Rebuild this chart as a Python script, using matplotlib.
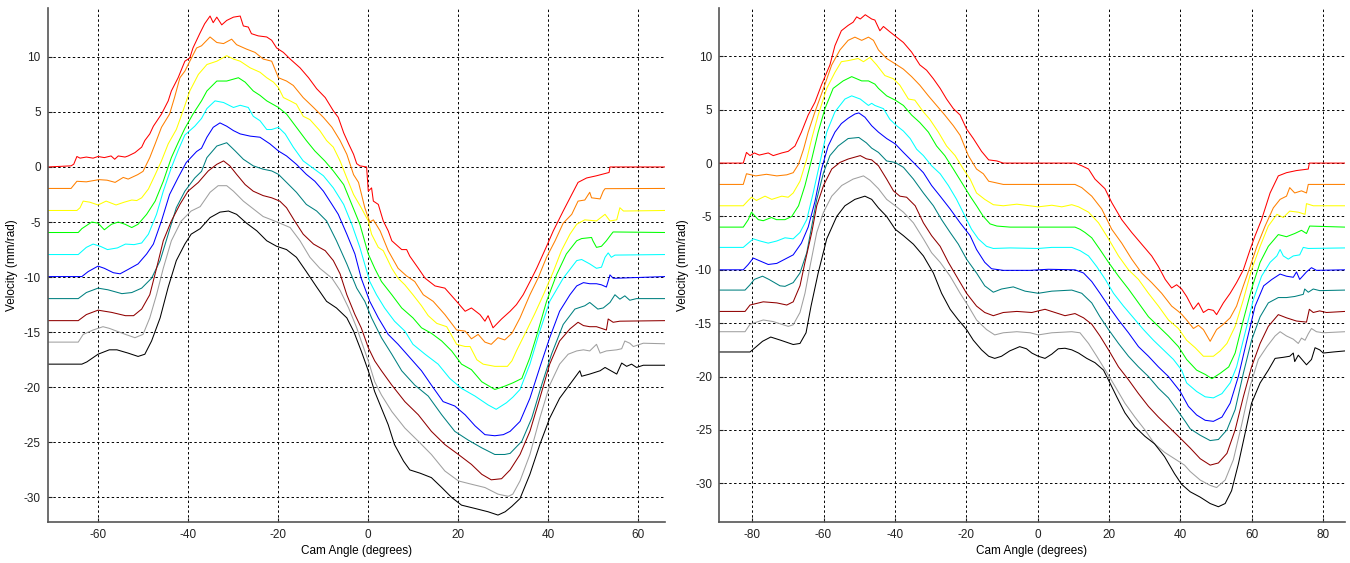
import matplotlib
matplotlib.use('Agg')
import matplotlib.pyplot as plt

plt.rcParams['font.family'] = ['Liberation Sans', 'DejaVu Sans']
plt.rcParams['axes.unicode_minus'] = False

# (cam angle, velocity) pairs, offset curves from top to bottom

left_red = [(-71.2,0.0),(-66.0,0.1),(-65.4,0.25),(-64.7,0.95),(-64.0,0.8),(-62.6,0.9),(-61.1,0.8),(-60.0,0.95),
    (-58.6,0.85),(-57.1,1.0),(-56.3,0.7),(-55.5,1.0),(-54.0,0.9),(-53.3,1.0),(-51.8,1.3),(-50.3,1.8),(-49.6,2.4),
    (-48.5,3.0),(-47.7,3.7),(-45.9,4.8),(-44.4,6.0),(-43.7,6.9),(-42.2,8.1),(-40.7,9.6),(-39.6,9.9),(-38.9,10.8),
    (-37.4,12.1),(-36.3,13.0),(-35.1,13.7),(-34.4,13.1),(-33.6,13.6),(-32.5,12.9),(-31.4,13.3),(-29.9,13.6),
    (-28.4,13.7),(-27.7,12.8),(-26.6,12.7),(-25.9,12.1),(-24.4,11.9),(-22.5,11.8),(-21.4,11.5),(-20.3,10.8),
    (-18.8,10.4),(-17.3,9.8),(-15.1,9.0),(-13.2,8.1),(-11.4,7.1),(-9.5,6.3),(-7.7,5.1),(-6.6,4.5),(-5.4,3.1),
    (-4.3,2.1),(-3.2,1.15),(-2.5,0.3),(-1.8,0.1),(-0.3,0.0),(0.07,-2.2),(0.8,-1.9),(1.2,-3.1),(2.3,-3.4),
    (3.4,-4.9),(4.5,-5.8),(5.3,-6.7),(7.5,-7.5),(8.6,-7.5),(9.3,-8.1),(11.2,-9.2),(12.7,-10.1),(14.9,-10.8),
    (17.1,-11.0),(19.7,-12.2),(21.6,-13.1),(23.0,-12.8),(24.9,-13.4),(26.0,-14.0),(26.7,-13.5),(27.8,-14.6),
    (29.7,-13.8),(31.6,-13.1),(33.0,-12.5),(34.5,-11.6),(36.4,-10.1),(37.5,-9.2),(39.6,-7.3),(41.2,-5.8),
    (43.4,-4.0),(45.3,-2.5),(46.7,-1.4),(48.6,-1.0),(50.8,-0.8),(53.6,-0.5),(53.8,0.0),(66.0,0.0)]

left_orange = [(-71.2,-1.95),(-66.0,-1.95),(-64.7,-1.3),(-62.6,-1.35),(-59.8,-1.15),(-58.0,-1.2),(-56.2,-1.4),
    (-54.4,-0.95),(-53.3,-1.1),(-51.2,-0.7),(-50.0,-0.4),(-48.5,0.85),(-47.3,2.1),(-45.9,3.6),(-44.1,4.8),
    (-43.0,6.3),(-41.8,8.1),(-40.7,8.7),(-39.6,9.6),(-38.1,10.8),(-37.0,11.0),(-35.1,11.8),(-33.6,11.3),
    (-32.1,11.2),(-30.3,11.6),(-29.2,11.1),(-27.0,10.7),(-25.1,10.4),(-23.3,9.8),(-21.4,9.6),(-19.9,8.1),
    (-18.1,7.8),(-16.6,7.4),(-14.4,6.3),(-12.1,5.4),(-9.9,4.5),(-8.0,3.6),(-6.2,2.4),(-4.7,1.15),(-3.2,-0.7),
    (-2.1,-1.4),(-0.7,-3.7),(0.4,-5.0),(1.2,-4.8),(2.7,-5.8),(4.5,-7.6),(6.7,-9.2),(8.6,-9.9),(10.4,-10.4),
    (12.3,-11.6),(14.5,-12.2),(17.1,-13.4),(19.7,-14.8),(21.6,-14.9),(23.0,-15.6),(24.5,-15.2),(26.0,-15.9),
    (27.4,-16.1),(28.9,-15.5),(30.4,-15.7),(32.0,-15.1),(33.8,-13.7),(36.0,-11.6),(37.8,-10.1),(39.7,-8.2),
    (41.6,-6.7),(43.4,-5.1),(45.3,-4.3),(46.7,-3.1),(48.2,-3.0),(49.3,-2.3),(49.7,-2.8),(51.6,-2.9),
    (52.3,-2.2),(52.7,-1.97),(66.0,-1.95)]

left_yellow = [(-71.2,-3.95),(-64.7,-3.95),(-64.0,-3.7),(-63.3,-3.1),(-61.8,-3.2),(-60.0,-3.45),(-58.2,-3.1),
    (-56.0,-3.45),(-54.2,-3.2),(-52.5,-3.0),(-51.4,-3.05),(-50.3,-2.8),(-48.8,-2.0),(-47.3,-0.7),(-45.9,0.55),
    (-44.4,2.1),(-42.6,3.4),(-41.1,5.1),(-39.6,6.9),(-37.7,8.4),(-35.8,9.3),(-33.6,9.6),(-31.4,10.1),(-29.9,9.8),
    (-28.4,9.6),(-26.2,9.0),(-24.0,8.6),(-22.5,8.1),(-21.0,7.7),(-19.9,7.2),(-18.8,6.3),(-17.3,6.0),(-15.9,5.7),
    (-14.4,4.6),(-12.9,4.3),(-10.7,3.3),(-9.2,2.4),(-7.7,1.8),(-6.2,0.55),(-4.7,-1.0),(-3.2,-2.5),(-1.5,-3.7),
    (0.07,-4.9),(0.8,-6.1),(2.3,-7.3),(3.4,-7.6),(5.3,-9.2),(6.7,-10.1),(8.2,-10.7),(10.0,-11.6),(11.9,-12.6),
    (13.4,-13.5),(15.3,-14.2),(17.5,-14.5),(19.7,-16.1),(21.6,-16.3),(22.7,-16.3),(24.2,-17.5),(25.6,-17.9),
    (28.2,-18.1),(31.0,-18.1),(32.0,-17.6),(33.0,-16.7),(35.2,-14.9),(37.1,-13.3),(39.0,-11.6),(41.2,-9.5),
    (43.0,-7.6),(44.9,-6.1),(46.4,-5.2),(48.2,-4.8),(50.8,-4.9),(52.7,-4.3),(53.8,-4.9),(55.3,-4.8),(56.0,-3.7),
    (56.8,-4.0),(66.0,-3.95)]

left_green = [(-71.2,-5.95),(-64.4,-5.95),(-63.6,-5.6),(-61.4,-5.0),(-60.0,-5.1),(-58.6,-5.7),(-57.0,-5.2),
    (-55.5,-5.0),(-54.0,-5.2),(-52.5,-5.5),(-51.1,-5.2),(-49.2,-4.3),(-47.3,-3.1),(-45.5,-1.3),(-43.7,0.85),
    (-42.2,2.2),(-40.7,3.5),(-38.9,4.8),(-37.0,6.0),(-35.8,6.9),(-33.6,7.8),(-31.4,7.8),(-28.8,8.1),(-27.3,7.7),
    (-25.5,6.9),(-24.0,6.5),(-22.5,6.0),(-19.9,5.4),(-18.1,4.8),(-15.9,3.6),(-13.7,2.4),(-11.8,1.45),(-9.6,0.55),
    (-7.7,-0.36),(-5.4,-1.6),(-3.6,-3.4),(-1.8,-5.2),(0.07,-7.9),(1.5,-9.2),(3.0,-10.4),(5.3,-11.6),(7.5,-12.8),
    (10.0,-13.7),(11.9,-14.6),(14.1,-15.1),(16.4,-15.8),(18.6,-16.7),(20.8,-17.9),(23.0,-18.4),(25.3,-19.5),
    (28.2,-20.2),(30.4,-19.9),(32.2,-19.6),(34.2,-19.2),(36.0,-17.3),(37.8,-14.9),(39.7,-12.2),(41.9,-9.8),
    (44.1,-7.9),(46.4,-6.7),(47.5,-6.5),(49.7,-6.4),(50.0,-6.7),(50.8,-7.3),(51.9,-7.2),(53.0,-6.7),(54.1,-6.1),
    (54.5,-5.9),(66.0,-5.95)]

left_cyan = [(-71.2,-7.95),(-64.4,-7.95),(-62.6,-7.3),(-61.1,-7.0),(-59.5,-7.2),(-57.9,-7.5),(-55.7,-7.35),
    (-53.9,-7.0),(-52.0,-7.05),(-50.3,-6.9),(-48.8,-6.1),(-47.0,-4.3),(-45.5,-2.2),(-43.7,-0.06),(-42.2,1.5),
    (-40.7,2.9),(-38.5,3.7),(-37.0,4.4),(-35.8,5.3),(-34.0,6.0),(-32.1,5.85),(-29.9,5.4),(-28.4,5.6),(-26.6,5.4),
    (-25.5,4.6),(-24.0,4.2),(-22.5,3.4),(-21.4,3.4),(-19.9,3.6),(-18.4,3.0),(-16.6,1.8),(-14.4,0.55),(-12.9,0.1),
    (-9.9,-0.8),(-7.7,-1.9),(-5.4,-3.4),(-3.6,-5.2),(-1.8,-7.3),(0.4,-10.4),(1.9,-11.6),(3.7,-12.8),(5.9,-14.0),
    (8.2,-14.9),(10.0,-16.1),(12.7,-17.0),(15.6,-17.9),(18.2,-19.2),(20.8,-20.1),(23.8,-20.8),(26.7,-21.6),
    (28.5,-22.0),(30.8,-21.4),(32.2,-20.9),(33.8,-20.2),(36.0,-17.9),(38.2,-14.9),(40.4,-12.2),(43.4,-10.1),
    (46.4,-8.5),(47.5,-8.4),(49.3,-8.8),(50.8,-9.2),(51.9,-9.1),(52.7,-8.2),(53.4,-7.8),(54.1,-8.2),(54.9,-8.0),
    (66.0,-7.95)]

left_blue = [(-71.2,-9.95),(-63.6,-9.95),(-62.2,-9.5),(-60.0,-9.0),(-58.6,-9.2),(-56.6,-9.6),(-55.1,-9.7),
    (-53.3,-9.3),(-51.1,-8.8),(-49.2,-7.9),(-47.7,-7.0),(-45.9,-4.9),(-44.1,-2.5),(-42.2,-0.97),(-40.4,0.4),
    (-38.1,1.4),(-37.0,1.7),(-35.8,2.7),(-34.4,3.6),(-32.9,4.0),(-31.4,3.7),(-29.9,3.3),(-28.4,3.0),(-26.2,2.8),
    (-24.0,2.7),(-21.8,2.1),(-19.9,1.45),(-18.1,1.0),(-15.9,0.24),(-13.7,-0.67),(-11.8,-1.3),(-9.9,-2.2),
    (-8.0,-3.4),(-6.6,-4.3),(-4.7,-6.1),(-2.9,-7.9),(-1.5,-10.1),(0.4,-12.2),(2.3,-13.7),(4.5,-15.2),(6.7,-16.1),
    (9.3,-17.3),(11.9,-18.5),(14.1,-19.8),(16.7,-21.3),(19.3,-21.7),(21.6,-22.5),(23.8,-23.5),(26.0,-24.3),
    (28.2,-24.4),(30.1,-24.3),(31.6,-24.0),(33.8,-23.1),(36.0,-21.0),(38.2,-18.2),(40.4,-15.5),(42.6,-13.1),
    (44.9,-11.6),(46.4,-10.8),(47.9,-10.5),(49.3,-10.6),(50.8,-10.6),(51.9,-10.7),(53.0,-10.9),(53.8,-9.8),
    (54.5,-10.1),(55.3,-10.1),(66.0,-9.95)]

left_teal = [(-71.2,-11.95),(-64.4,-11.95),(-62.6,-11.4),(-60.0,-11.0),(-57.8,-11.15),(-54.7,-11.5),(-52.5,-11.4),
    (-50.3,-11.0),(-48.1,-10.1),(-46.2,-8.5),(-44.4,-6.1),(-42.6,-3.7),(-40.7,-2.2),(-38.5,-1.0),(-37.0,-0.4),
    (-35.8,0.85),(-33.6,1.9),(-31.4,2.2),(-29.5,1.45),(-27.7,0.7),(-25.5,0.1),(-23.3,-0.2),(-21.4,-0.36),
    (-19.9,-0.67),(-18.1,-1.4),(-15.9,-2.3),(-13.7,-3.4),(-11.4,-4.0),(-9.2,-4.9),(-7.0,-6.7),(-4.7,-8.8),
    (-2.5,-11.0),(-0.7,-12.2),(0.8,-13.7),(3.0,-15.5),(5.3,-17.0),(7.5,-18.5),(10.4,-19.8),(13.4,-20.8),
    (16.4,-22.5),(19.3,-24.0),(22.3,-24.8),(25.3,-25.5),(28.2,-26.1),(30.4,-26.1),(31.6,-26.0),(34.2,-24.9),
    (36.4,-22.8),(38.6,-19.8),(40.8,-17.0),(43.4,-14.3),(46.0,-12.9),(48.2,-12.6),(49.3,-12.3),(51.1,-12.9),
    (52.3,-12.8),(53.8,-12.3),(54.9,-11.6),(56.0,-12.0),(57.1,-11.7),(58.2,-12.1),(59.7,-11.95),(66.0,-11.95)]

left_brown = [(-71.2,-13.95),(-64.4,-13.95),(-62.6,-13.4),(-60.0,-13.0),(-57.0,-13.2),(-53.9,-13.5),(-52.1,-13.5),
    (-50.3,-12.9),(-48.5,-11.6),(-47.0,-9.2),(-45.5,-6.7),(-43.7,-4.9),(-41.8,-3.4),(-40.0,-2.2),(-37.7,-1.4),
    (-35.5,-0.36),(-33.6,0.24),(-32.1,0.55),(-30.7,0.1),(-29.2,-0.67),(-27.3,-1.6),(-25.5,-2.2),(-23.3,-2.6),
    (-21.4,-2.8),(-19.6,-3.1),(-18.1,-3.7),(-16.3,-4.9),(-14.4,-6.1),(-12.1,-7.0),(-9.5,-7.6),(-7.7,-8.5),
    (-6.2,-9.7),(-4.7,-11.6),(-2.9,-13.4),(-1.5,-14.6),(0.07,-16.4),(1.5,-17.6),(3.0,-18.5),(5.3,-19.8),
    (8.2,-21.3),(11.2,-22.5),(14.1,-24.0),(17.1,-25.2),(20.1,-26.1),(23.0,-27.0),(25.3,-27.9),(27.4,-28.4),
    (29.7,-28.3),(31.6,-27.5),(33.8,-26.1),(36.0,-24.0),(38.2,-21.0),(40.4,-17.9),(42.6,-15.8),(44.9,-14.7),
    (46.7,-14.1),(47.9,-14.4),(49.3,-14.5),(50.8,-14.5),(53.0,-14.8),(53.4,-13.8),(54.5,-14.1),(56.0,-14.0),
    (66.0,-13.95)]

left_gray = [(-71.2,-15.9),(-64.4,-15.9),(-63.3,-15.2),(-61.1,-14.8),(-58.9,-14.5),(-57.5,-14.65),(-53.9,-15.2),
    (-51.8,-15.5),(-50.0,-15.2),(-48.5,-13.7),(-47.0,-11.6),(-45.5,-9.2),(-43.7,-6.7),(-41.5,-4.9),(-39.3,-4.0),
    (-37.3,-3.6),(-35.1,-2.3),(-33.3,-1.7),(-31.4,-1.7),(-29.9,-2.2),(-27.7,-3.1),(-25.5,-3.8),(-23.3,-4.5),
    (-21.4,-4.8),(-19.6,-5.1),(-17.3,-5.5),(-15.1,-6.7),(-12.9,-8.2),(-10.7,-9.2),(-8.0,-10.1),(-6.2,-11.2),
    (-4.3,-12.8),(-2.5,-14.6),(-1.5,-15.8),(0.07,-17.6),(1.5,-19.5),(3.0,-20.7),(5.3,-22.2),(8.2,-23.7),
    (11.2,-24.9),(14.1,-26.1),(17.1,-27.6),(20.1,-28.5),(23.0,-28.8),(26.0,-29.1),(28.9,-29.7),(31.2,-29.9),
    (32.2,-29.7),(33.8,-28.5),(36.0,-26.1),(38.2,-22.8),(40.4,-19.8),(42.6,-17.9),(44.5,-17.0),(46.4,-16.7),
    (47.9,-16.6),(49.3,-16.7),(50.8,-16.1),(51.6,-16.9),(53.0,-16.7),(55.3,-16.6),(56.4,-16.5),(57.1,-15.8),
    (58.2,-16.0),(59.0,-16.3),(61.2,-16.0),(66.0,-16.05)]

left_black = [(-71.2,-17.9),(-63.6,-17.9),(-62.5,-17.7),(-60.0,-17.0),(-57.5,-16.6),(-55.8,-16.6),(-53.3,-16.9),
    (-51.1,-17.2),(-49.6,-17.0),(-48.1,-15.8),(-46.2,-13.7),(-44.4,-10.9),(-42.6,-8.5),(-40.7,-7.0),(-39.3,-6.1),
    (-37.3,-5.6),(-35.1,-4.6),(-32.9,-4.1),(-31.0,-4.0),(-29.2,-4.3),(-27.0,-5.1),(-24.7,-5.8),(-22.5,-6.7),
    (-20.3,-7.2),(-18.1,-7.5),(-15.9,-8.2),(-13.7,-9.5),(-11.4,-10.9),(-9.2,-12.2),(-7.0,-12.8),(-4.7,-13.7),
    (-3.2,-14.9),(-1.5,-16.7),(0.07,-18.5),(1.5,-20.4),(3.0,-21.9),(4.5,-23.4),(5.9,-25.2),(7.9,-26.7),
    (9.3,-27.5),(11.6,-27.8),(14.1,-28.2),(16.4,-29.1),(18.6,-30.0),(20.8,-30.7),(23.8,-31.0),(26.7,-31.3),
    (28.9,-31.6),(30.5,-31.3),(32.0,-30.8),(33.8,-30.1),(36.0,-27.9),(38.2,-25.2),(40.4,-22.8),(42.6,-21.0),
    (45.3,-19.5),(47.1,-18.5),(47.5,-19.0),(49.3,-18.8),(51.6,-18.5),(52.7,-18.2),(55.3,-18.8),(56.4,-17.8),
    (57.5,-18.1),(58.6,-17.9),(59.7,-18.2),(61.2,-18.0),(66.0,-18.0)]

right_red = [(-89.3,0.0),(-82.5,0.0),(-81.6,1.0),(-80.6,0.7),(-79.4,0.95),(-78.0,0.75),(-75.5,0.95),(-74.1,0.7),
    (-71.7,0.95),(-69.9,1.1),(-68.0,1.6),(-66.2,2.9),(-64.3,4.5),(-62.4,5.7),(-60.6,7.3),(-58.2,9.2),(-56.8,11.0),
    (-55.0,12.4),(-53.1,12.9),(-51.7,13.2),(-50.7,13.7),(-49.7,13.5),(-48.3,13.9),(-46.5,13.5),(-45.6,13.4),
    (-44.2,12.4),(-43.2,12.8),(-41.4,12.3),(-39.5,11.8),(-37.6,11.3),(-35.3,10.4),(-33.0,9.2),(-31.1,8.7),
    (-29.2,7.9),(-27.3,7.0),(-25.5,6.0),(-23.6,5.1),(-21.7,4.5),(-19.9,3.2),(-18.0,2.3),(-15.7,1.1),(-13.7,0.3),
    (-11.4,0.2),(-9.6,0.0),(10.5,0.0),(12.4,-0.25),(14.3,-0.56),(16.1,-1.5),(18.9,-2.4),(20.8,-3.7),(23.6,-5.3),
    (26.4,-6.5),(29.2,-7.6),(32.0,-8.7),(33.9,-9.7),(35.8,-10.9),(37.6,-11.7),(39.0,-11.4),(40.4,-11.8),
    (41.8,-12.5),(43.7,-13.7),(45.1,-13.1),(46.5,-14.0),(47.9,-13.7),(49.3,-13.8),(50.2,-14.2),(52.1,-13.1),
    (54.0,-12.2),(55.8,-11.2),(57.7,-10.0),(59.6,-8.1),(61.0,-6.8),(62.8,-5.3),(65.2,-2.8),(67.5,-1.2),
    (69.8,-0.9),(72.6,-0.7),(75.9,-0.56),(76.2,0.0),(86.2,0.0)]

right_orange = [(-89.3,-2.0),(-82.5,-2.0),(-81.6,-1.0),(-79.0,-1.2),(-76.0,-1.05),(-73.1,-1.2),(-70.3,-1.1),
    (-68.5,-0.9),(-67.0,-0.1),(-65.6,1.3),(-64.3,2.9),(-62.4,4.8),(-60.0,7.0),(-57.7,9.2),(-55.4,10.6),(-53.1,11.5),
    (-51.2,11.8),(-49.3,11.5),(-47.4,11.8),(-46.0,11.5),(-44.6,10.6),(-42.3,9.8),(-39.9,9.3),(-37.6,8.8),
    (-35.3,8.1),(-33.0,7.3),(-30.6,6.3),(-28.3,5.4),(-26.0,4.5),(-23.6,3.5),(-21.7,2.6),(-19.4,0.7),(-17.1,-0.56),
    (-15.2,-1.0),(-13.7,-1.7),(-12.3,-1.8),(-9.6,-2.0),(10.5,-2.0),(12.4,-2.3),(15.2,-3.1),(18.0,-4.3),(20.8,-6.2),
    (23.6,-7.5),(26.4,-9.0),(29.2,-10.3),(32.0,-11.2),(34.8,-12.2),(37.6,-13.4),(39.5,-13.9),(40.5,-14.2),
    (41.8,-14.7),(43.7,-15.5),(45.1,-15.2),(46.5,-15.6),(48.4,-16.7),(50.2,-15.6),(52.1,-15.1),(54.0,-14.5),
    (55.8,-13.4),(57.7,-11.5),(59.6,-9.7),(61.5,-7.8),(63.8,-5.9),(66.1,-4.2),(68.0,-3.4),(69.8,-3.1),(70.7,-2.3),
    (72.1,-2.8),(74.0,-2.6),(75.4,-2.8),(75.9,-2.0),(86.2,-2.0)]

right_yellow = [(-89.3,-4.0),(-82.5,-4.0),(-81.1,-3.5),(-80.2,-3.2),(-78.8,-3.5),(-76.4,-3.1),(-74.5,-3.4),
    (-71.7,-3.1),(-69.9,-3.2),(-68.5,-2.8),(-66.6,-1.7),(-64.7,0.38),(-63.3,2.3),(-61.5,4.5),(-59.1,7.0),(-56.8,8.5),
    (-55.0,9.5),(-53.1,9.6),(-50.3,9.8),(-48.8,9.5),(-47.0,9.9),(-45.1,9.2),(-42.8,8.2),(-40.4,7.9),(-38.6,7.3),
    (-36.2,6.0),(-34.4,5.9),(-32.0,4.8),(-30.2,4.1),(-27.8,2.9),(-25.5,1.6),(-23.1,0.7),(-20.8,-0.56),(-18.9,-1.5),
    (-17.1,-2.8),(-14.8,-3.4),(-12.4,-3.9),(-9.6,-4.0),(-5.8,-3.85),(0.2,-4.1),(4.0,-3.95),(6.8,-4.1),(9.6,-3.9),
    (11.5,-4.1),(14.3,-4.6),(17.1,-5.6),(19.9,-7.1),(22.7,-8.7),(25.5,-10.0),(28.3,-10.9),(31.1,-12.2),
    (33.9,-13.4),(36.7,-14.7),(39.5,-15.5),(41.8,-16.6),(44.2,-17.3),(46.5,-18.1),(49.3,-18.1),(51.2,-17.6),
    (53.1,-16.9),(55.4,-15.3),(57.7,-12.8),(60.0,-10.0),(62.4,-7.8),(64.7,-5.9),(67.1,-4.8),(68.9,-5.1),
    (70.7,-4.5),(73.1,-4.6),(75.0,-4.8),(75.4,-3.8),(77.3,-4.0),(86.2,-4.0)]

right_green = [(-89.3,-6.0),(-82.5,-6.0),(-81.1,-5.3),(-80.2,-4.6),(-78.3,-5.3),(-76.9,-5.4),(-74.6,-5.1),
    (-73.2,-5.3),(-70.8,-5.3),(-68.9,-5.0),(-67.0,-4.0),(-65.2,-2.1),(-63.3,0.38),(-61.5,2.9),(-59.6,5.1),
    (-57.3,7.0),(-54.5,7.7),(-52.1,8.1),(-49.3,7.7),(-47.4,7.7),(-45.6,7.4),(-44.6,7.0),(-42.3,6.3),(-39.9,5.9),
    (-37.6,5.4),(-35.3,4.5),(-33.0,3.8),(-30.6,2.9),(-28.3,1.6),(-26.0,0.7),(-23.6,-0.56),(-21.3,-1.8),(-18.9,-3.1),
    (-17.1,-4.0),(-15.2,-5.0),(-13.3,-5.7),(-11.4,-5.9),(-7.7,-6.0),(10.5,-6.0),(11.9,-6.2),(13.3,-6.5),
    (15.2,-7.0),(17.5,-8.1),(19.9,-9.3),(22.7,-10.6),(25.5,-11.8),(28.3,-13.1),(31.1,-14.4),(33.9,-15.3),
    (36.7,-16.2),(39.5,-17.2),(41.8,-18.4),(44.6,-19.4),(47.0,-19.8),(48.9,-20.2),(51.2,-19.7),(53.6,-19.1),
    (55.4,-17.8),(57.7,-14.7),(60.0,-11.8),(62.4,-9.3),(64.7,-7.8),(67.5,-6.7),(69.8,-6.9),(72.1,-6.6),
    (74.0,-6.3),(75.4,-6.6),(76.3,-5.9),(86.2,-6.0)]

right_cyan = [(-89.3,-7.9),(-82.5,-7.9),(-81.1,-7.5),(-79.7,-7.1),(-77.8,-7.3),(-75.5,-7.5),(-73.1,-7.3),
    (-70.8,-7.0),(-68.5,-7.1),(-66.6,-6.5),(-64.7,-5.3),(-62.9,-2.8),(-61.0,0.06),(-59.1,2.9),(-56.8,4.8),
    (-54.0,6.0),(-52.1,6.3),(-49.7,6.0),(-47.4,5.4),(-46.5,5.6),(-45.6,5.4),(-43.2,5.1),(-41.4,4.1),(-39.5,3.5),
    (-37.6,3.0),(-35.7,2.3),(-33.9,1.3),(-32.0,0.7),(-29.7,-0.25),(-27.3,-1.0),(-25.0,-2.1),(-22.7,-3.4),
    (-20.3,-5.0),(-18.5,-6.2),(-16.6,-7.1),(-14.3,-7.8),(-12.4,-8.0),(-7.7,-7.95),(0.2,-8.0),(4.0,-7.9),
    (9.6,-7.9),(11.9,-8.2),(14.3,-8.7),(16.6,-9.7),(19.0,-10.9),(21.3,-12.2),(24.1,-13.4),(26.9,-14.5),
    (29.7,-15.6),(32.5,-16.6),(35.3,-17.5),(38.1,-18.4),(40.4,-19.4),(41.8,-20.6),(44.6,-21.4),(47.0,-21.9),
    (49.3,-22.0),(51.7,-21.6),(54.0,-20.6),(55.8,-19.1),(58.2,-15.9),(60.5,-12.8),(62.8,-10.6),(65.2,-9.3),
    (67.1,-8.7),(68.0,-8.1),(68.9,-8.7),(70.3,-9.0),(71.7,-8.7),(73.5,-8.6),(74.5,-7.9),(75.9,-8.0),(86.2,-7.95)]

right_blue = [(-89.3,-10.0),(-82.5,-10.0),(-81.1,-9.5),(-79.7,-8.9),(-78.3,-9.1),(-75.5,-9.5),(-73.1,-9.4),
    (-70.8,-9.0),(-68.5,-8.6),(-66.2,-7.5),(-64.3,-6.0),(-62.4,-3.6),(-60.6,-0.6),(-58.7,1.6),(-56.8,2.9),
    (-55.0,3.7),(-53.1,4.2),(-51.2,4.6),(-50.1,4.7),(-48.4,4.3),(-46.5,3.5),(-44.6,2.9),(-42.3,2.3),(-39.9,1.8),
    (-37.6,1.0),(-34.8,0.06),(-32.0,-0.9),(-29.7,-2.1),(-27.3,-3.1),(-24.5,-4.3),(-21.7,-5.6),(-18.9,-6.8),
    (-17.1,-8.1),(-14.8,-9.3),(-12.9,-9.9),(-9.6,-10.05),(-2.1,-10.05),(3.0,-9.95),(10.5,-10.0),(12.9,-10.3),
    (15.2,-11.1),(17.5,-12.2),(19.9,-13.4),(22.7,-14.7),(25.5,-15.9),(28.3,-17.2),(31.1,-18.1),(33.9,-19.1),
    (36.7,-20.0),(40.0,-21.4),(42.3,-22.8),(44.6,-23.6),(47.0,-24.1),(49.3,-24.2),(51.7,-23.8),(54.0,-22.5),
    (56.3,-20.0),(58.7,-16.6),(61.0,-13.4),(63.4,-11.5),(65.7,-10.9),(68.0,-10.4),(69.8,-10.6),(71.7,-10.7),
    (72.6,-10.2),(73.5,-10.9),(75.4,-10.2),(76.8,-9.8),(78.2,-10.05),(86.2,-10.0)]

right_teal = [(-89.3,-11.9),(-82.0,-11.9),(-80.6,-11.4),(-79.4,-10.9),(-77.1,-10.6),(-75.3,-10.9),(-72.2,-11.5),
    (-70.8,-11.55),(-68.5,-11.2),(-66.6,-10.3),(-64.7,-8.4),(-63.3,-5.9),(-61.9,-3.4),(-60.0,-0.9),(-58.2,0.7),
    (-55.9,1.6),(-53.1,2.3),(-50.1,2.4),(-48.0,1.9),(-46.5,1.4),(-44.6,1.0),(-42.3,0.2),(-39.9,0.06),(-37.6,-0.4),
    (-34.8,-1.5),(-32.0,-2.8),(-29.2,-4.0),(-26.9,-5.3),(-24.5,-6.5),(-22.2,-7.6),(-19.9,-9.0),(-17.1,-10.3),
    (-14.8,-11.5),(-12.4,-12.1),(-10.1,-11.8),(-6.8,-11.6),(-3.5,-12.0),(0.2,-12.2),(4.0,-12.0),(9.6,-11.9),
    (12.4,-12.2),(15.2,-13.1),(17.5,-14.4),(19.9,-15.6),(22.7,-16.9),(25.5,-18.1),(28.3,-19.1),(31.1,-20.0),
    (33.9,-21.1),(36.7,-22.0),(39.5,-23.3),(41.4,-24.2),(42.8,-24.9),(45.6,-25.5),(48.4,-26.0),(50.7,-25.9),
    (53.1,-25.0),(55.4,-23.1),(57.7,-19.7),(60.0,-16.6),(62.4,-14.4),(64.7,-13.1),(67.5,-12.6),(69.8,-12.6),
    (72.1,-12.5),(74.5,-12.3),(74.9,-11.8),(75.9,-12.1),(77.3,-11.8),(79.1,-11.95),(86.2,-11.9)]

right_brown = [(-89.3,-13.9),(-82.0,-13.9),(-80.6,-13.3),(-76.9,-13.0),(-73.1,-13.1),(-70.3,-13.3),(-68.5,-13.0),
    (-66.6,-11.5),(-65.2,-9.3),(-63.3,-6.5),(-61.9,-4.0),(-60.0,-2.1),(-57.7,-0.56),(-55.4,0.06),(-53.1,0.38),
    (-49.7,0.7),(-48.0,0.4),(-46.5,0.3),(-44.6,-0.25),(-42.3,-1.5),(-40.4,-2.6),(-38.6,-3.1),(-36.7,-3.2),
    (-34.3,-4.0),(-32.0,-5.6),(-29.7,-6.8),(-27.3,-7.8),(-25.0,-9.3),(-22.2,-10.9),(-19.9,-12.2),(-17.1,-13.4),
    (-14.8,-14.0),(-12.4,-14.3),(-9.6,-14.0),(-5.8,-13.9),(-1.6,-14.0),(0.2,-13.85),(2.1,-13.7),(4.9,-14.0),
    (7.7,-14.3),(10.5,-14.1),(12.9,-14.5),(15.2,-15.1),(17.5,-16.2),(19.9,-17.5),(22.7,-19.1),(25.5,-20.3),
    (28.3,-21.6),(31.1,-22.8),(33.9,-23.8),(36.7,-24.7),(39.5,-25.6),(42.8,-26.7),(45.6,-27.7),(48.4,-28.3),
    (50.7,-28.1),(53.1,-27.2),(55.4,-25.0),(57.7,-21.9),(60.0,-19.1),(62.4,-16.9),(64.7,-15.3),(67.5,-14.2),
    (69.8,-14.5),(72.6,-14.8),(75.4,-14.9),(76.2,-13.7),(77.3,-14.0),(79.1,-13.85),(81.0,-14.0),(86.2,-13.9)]

right_gray = [(-89.3,-15.8),(-82.0,-15.8),(-80.6,-15.1),(-76.9,-14.7),(-74.1,-14.85),(-69.9,-15.3),(-68.5,-15.15),
    (-66.6,-14.0),(-65.2,-12.2),(-63.8,-9.7),(-61.9,-6.5),(-60.0,-4.6),(-57.7,-3.1),(-54.9,-2.1),(-51.7,-1.5),
    (-48.8,-1.2),(-47.0,-1.6),(-44.6,-2.4),(-42.3,-3.4),(-39.9,-4.0),(-37.6,-4.6),(-34.8,-5.6),(-32.0,-7.1),
    (-29.7,-8.4),(-27.3,-9.3),(-24.5,-10.6),(-21.7,-12.2),(-19.4,-13.4),(-17.1,-14.7),(-14.3,-15.6),(-12.0,-16.1),
    (-9.6,-15.9),(-5.8,-15.8),(-2.1,-15.9),(0.2,-16.1),(4.0,-15.9),(9.6,-15.8),(11.9,-15.9),(14.3,-16.9),
    (16.6,-18.1),(19.0,-19.4),(21.7,-20.9),(24.5,-22.5),(27.3,-23.8),(30.1,-25.0),(32.8,-26.3),(35.6,-27.1),
    (38.4,-27.7),(41.2,-28.3),(42.8,-28.9),(45.6,-29.7),(48.4,-30.2),(50.2,-30.4),(52.6,-29.7),(54.9,-27.8),
    (57.3,-24.4),(59.6,-20.9),(61.9,-18.4),(64.3,-17.2),(66.6,-16.2),(68.0,-15.8),(69.8,-16.2),(71.7,-16.5),
    (73.1,-16.9),(74.0,-16.4),(75.0,-16.6),(75.9,-16.0),(76.8,-15.5),(78.2,-15.8),(80.1,-15.9),(86.2,-15.8)]

right_black = [(-89.3,-17.7),(-80.6,-17.7),(-79.2,-17.3),(-77.1,-16.7),(-74.8,-16.3),(-72.0,-16.6),(-68.5,-17.0),
    (-66.6,-16.9),(-64.9,-15.9),(-63.5,-13.4),(-61.5,-10.3),(-59.1,-7.1),(-56.3,-5.0),(-54.0,-4.0),(-51.2,-3.4),
    (-48.4,-3.1),(-46.5,-3.4),(-44.6,-4.2),(-42.3,-5.0),(-39.9,-6.2),(-37.6,-6.8),(-34.8,-7.6),(-32.0,-8.7),
    (-29.2,-10.3),(-26.9,-12.2),(-24.5,-13.7),(-22.2,-14.7),(-19.9,-15.6),(-18.0,-16.6),(-15.7,-17.5),
    (-13.7,-18.1),(-12.0,-18.3),(-10.1,-18.1),(-7.8,-17.6),(-5.0,-17.2),(-3.1,-17.4),(-1.6,-17.8),(0.2,-18.1),
    (2.1,-18.3),(4.0,-17.9),(5.8,-17.4),(7.7,-17.35),(9.6,-17.5),(11.5,-17.8),(13.8,-18.3),(16.1,-18.7),
    (18.5,-19.4),(20.3,-20.6),(22.2,-21.9),(24.5,-23.4),(27.3,-24.7),(30.1,-25.6),(32.8,-26.3),(35.6,-27.5),
    (38.4,-29.1),(40.4,-30.1),(42.8,-30.8),(45.6,-31.3),(48.4,-31.9),(50.7,-32.2),(52.6,-31.9),(54.4,-30.7),
    (56.3,-28.2),(58.2,-25.3),(60.0,-22.5),(62.4,-20.6),(64.7,-19.4),(66.6,-18.3),(68.9,-18.2),(70.7,-18.1),
    (71.7,-17.8),(72.1,-18.6),(73.1,-18.0),(75.4,-18.9),(76.8,-18.4),(77.8,-17.3),(79.1,-17.5),(80.1,-17.8),
    (82.9,-17.7),(86.2,-17.6)]

colors = ['#FF0000', '#FF8000', '#FFFF00', '#00FF00', '#00FFFF',
          '#0000FF', '#008080', '#900000', '#A0A0A0', '#000000']

left_curves = [left_red, left_orange, left_yellow, left_green, left_cyan,
               left_blue, left_teal, left_brown, left_gray, left_black]
right_curves = [right_red, right_orange, right_yellow, right_green, right_cyan,
                right_blue, right_teal, right_brown, right_gray, right_black]

left_xticks = [-60, -40, -20, 0, 20, 40, 60]
right_xticks = [-80, -60, -40, -20, 0, 20, 40, 60, 80]
yticks = [10, 5, 0, -5, -10, -15, -20, -25, -30]


fig = plt.figure(figsize=(13.5, 5.63), dpi=100)
ax1 = fig.add_axes([0.0353, 0.0734, 0.4572, 0.9118])
ax2 = fig.add_axes([0.5326, 0.0734, 0.4637, 0.9118])


def draw(ax, curves, xlim, ylim, xticks):
    for pts, c in zip(curves, colors):
        xs = [p[0] for p in pts]
        ys = [p[1] for p in pts]
        ax.plot(xs, ys, color=c, lw=0.75)
    ax.set_xlim(*xlim)
    ax.set_ylim(*ylim)
    ax.set_xticks(xticks)
    ax.set_yticks(yticks)
    ax.grid(True, color='black', lw=0.7, linestyle=(0, (2.5, 2.5)))
    ax.set_axisbelow(True)
    for s in ['top', 'right']:
        ax.spines[s].set_visible(False)
    for s in ['left', 'bottom']:
        ax.spines[s].set_color('#555555')
        ax.spines[s].set_linewidth(1.2)
    ax.tick_params(direction='in', length=3, labelsize=8.5, colors='#222222', pad=5)
    ax.set_xlabel('Cam Angle (degrees)', fontsize=8.5, labelpad=3)
    ax.set_ylabel('Velocity (mm/rad)', fontsize=8.5, labelpad=4)


draw(ax1, left_curves, (-71.2, 66.0), (-32.2, 14.4), left_xticks)
draw(ax2, right_curves, (-89.3, 86.2), (-33.6, 14.5), right_xticks)

fig.savefig('out.png', dpi=100)
